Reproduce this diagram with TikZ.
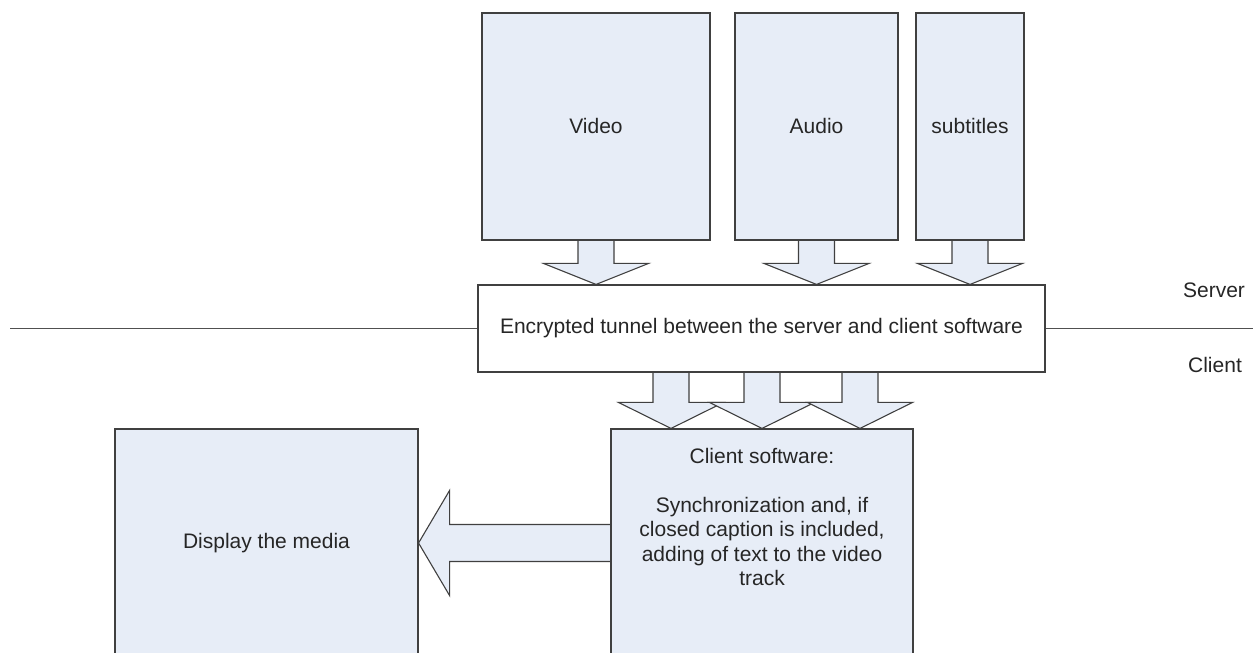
\documentclass[tikz,border=0pt]{standalone}
\usepackage{fontspec}
\setmainfont{Liberation Sans}
\usetikzlibrary{calc,backgrounds}
\definecolor{ink}{RGB}{38,38,38}
\definecolor{edge}{RGB}{64,64,64}
\definecolor{boxfill}{RGB}{231,237,247}
\definecolor{divider}{RGB}{80,80,80}

\tikzset{
  stream/.style={draw=edge,fill=boxfill,line width=1.1pt,inner sep=0pt,text=ink,
    font=\fontsize{21}{24.5}\selectfont,align=center},
  tunnelbox/.style={stream,fill=white},
  blockarrow/.style={draw=edge,fill=boxfill,line width=1.1pt,line join=miter},
  sidelabel/.style={text=ink,font=\fontsize{21}{24.5}\selectfont}
}

% down block arrow: #1 from, #2 to, #3 x of its axis, #4 head length
\newcommand{\blockdown}[4]{%
  \path[blockarrow] let \p1=(#1), \p2=(#2) in
    (#3pt-18pt,\y1) -- (#3pt-18pt,\y2+#4pt) -- (#3pt-52.5pt,\y2+#4pt) -- (#3pt,\y2)
    -- (#3pt+52.5pt,\y2+#4pt) -- (#3pt+18pt,\y2+#4pt) -- (#3pt+18pt,\y1);
}

\begin{document}
\begin{tikzpicture}[x=1pt,y=1pt]
\useasboundingbox (0,0) rectangle (1253,653);

% sources on the server
\node[stream,minimum width=228pt,minimum height=227pt] (video) at (596,526.5) {Video};
\node[stream,minimum width=163pt,minimum height=227pt] (audio) at (816.5,526.5) {Audio};
\node[stream,minimum width=108pt,minimum height=227pt] (subs) at (970,526.5) {subtitles};

% tunnel and the server/client border
\node[tunnelbox,minimum width=567pt,minimum height=87pt] (tunnel) at (761.5,324.5)
  {Encrypted tunnel between the server and client software};
\coordinate (borderL) at (10,324.5);
\coordinate (borderR) at (1253,324.5);
\draw[divider,line width=1.1pt] (borderL) -- (tunnel.west);
\draw[divider,line width=1.1pt] (tunnel.east) -- (borderR);
\node[sidelabel] (server) at (1214,363) {Server};
\node[sidelabel] (clientside) at (1215,288) {Client};

% client side
\node[stream,minimum width=302pt,minimum height=228pt] (client) at (762,110) {};
\node[sidelabel,align=center] (clienttext) at (762,136)
  {Client software:\\[24.5pt]Synchronization and, if\\closed caption is included,\\adding of text to the video\\track};
\node[stream,minimum width=303pt,minimum height=228pt] (display) at (266.5,110) {Display the media};

\begin{scope}[on background layer]
\blockdown{video.south}{tunnel.north}{596}{21}
\blockdown{audio.south}{tunnel.north}{816.5}{21}
\blockdown{subs.south}{tunnel.north}{970}{21}
\blockdown{tunnel.south}{client.north}{671}{26}
\blockdown{tunnel.south}{client.north}{762}{26}
\blockdown{tunnel.south}{client.north}{860}{26}
\path[blockarrow] let \p1=(client.west), \p2=(display.east) in
  (\x1,\y1+18.5pt) -- (\x2+31pt,\y1+18.5pt) -- (\x2+31pt,\y1+52.5pt) -- (\x2,\y1)
  -- (\x2+31pt,\y1-52.5pt) -- (\x2+31pt,\y1-18.5pt) -- (\x1,\y1-18.5pt);
\end{scope}
\end{tikzpicture}
\end{document}
